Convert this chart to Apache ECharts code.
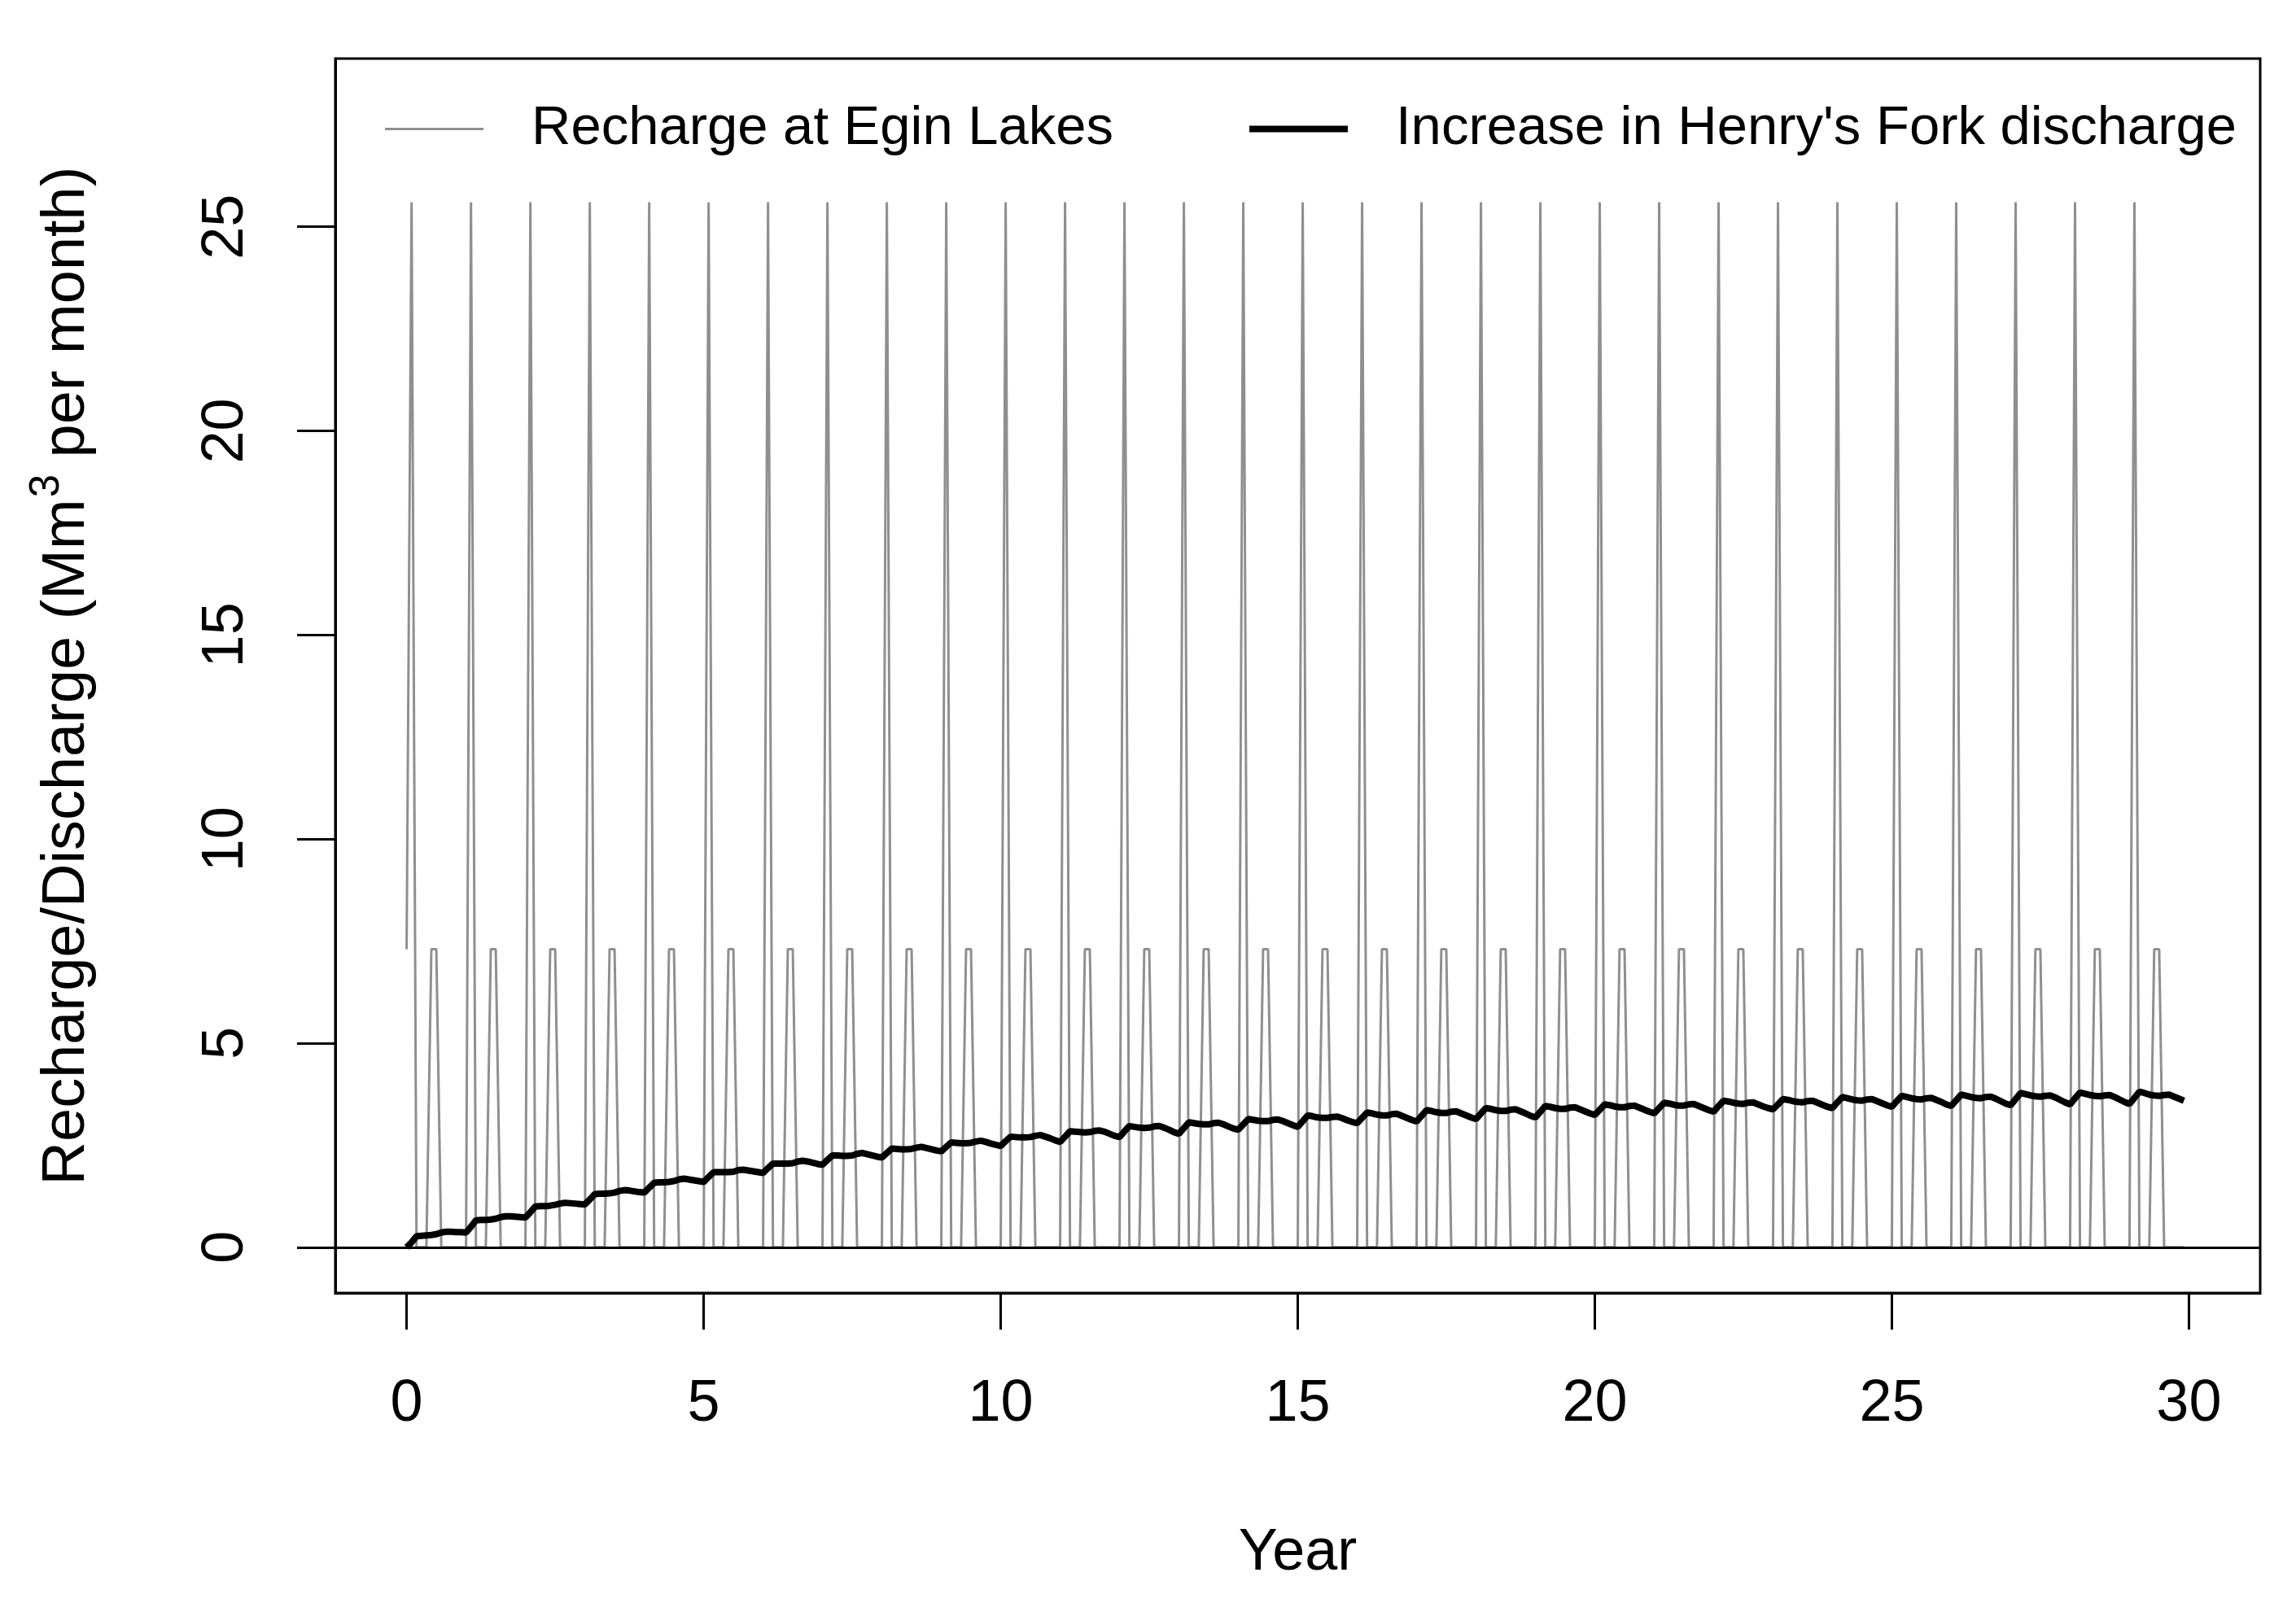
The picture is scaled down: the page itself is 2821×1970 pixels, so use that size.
<!DOCTYPE html>
<html>
<head>
<meta charset="utf-8">
<script src="https://cdn.jsdelivr.net/npm/echarts@6/dist/echarts.min.js"></script>
<style>
  html, body { margin: 0; padding: 0; background: #fff; }
  #chart { width: 2821px; height: 1970px; }
</style>
</head>
<body>
<div id="chart"></div>
<script>
// ---- Data (monthly, 30 years, month index 0..359) ----
const MONTHS_PER_YEAR = 12;

// Recharge at Egin Lakes (Mm^3 per month), one row per year
const recharge = [
  7.3, 25.6, 0, 0, 0, 7.3, 7.3, 0, 0, 0, 0, 0,
  0, 25.6, 0, 0, 0, 7.3, 7.3, 0, 0, 0, 0, 0,
  0, 25.6, 0, 0, 0, 7.3, 7.3, 0, 0, 0, 0, 0,
  0, 25.6, 0, 0, 0, 7.3, 7.3, 0, 0, 0, 0, 0,
  0, 25.6, 0, 0, 0, 7.3, 7.3, 0, 0, 0, 0, 0,
  0, 25.6, 0, 0, 0, 7.3, 7.3, 0, 0, 0, 0, 0,
  0, 25.6, 0, 0, 0, 7.3, 7.3, 0, 0, 0, 0, 0,
  0, 25.6, 0, 0, 0, 7.3, 7.3, 0, 0, 0, 0, 0,
  0, 25.6, 0, 0, 0, 7.3, 7.3, 0, 0, 0, 0, 0,
  0, 25.6, 0, 0, 0, 7.3, 7.3, 0, 0, 0, 0, 0,
  0, 25.6, 0, 0, 0, 7.3, 7.3, 0, 0, 0, 0, 0,
  0, 25.6, 0, 0, 0, 7.3, 7.3, 0, 0, 0, 0, 0,
  0, 25.6, 0, 0, 0, 7.3, 7.3, 0, 0, 0, 0, 0,
  0, 25.6, 0, 0, 0, 7.3, 7.3, 0, 0, 0, 0, 0,
  0, 25.6, 0, 0, 0, 7.3, 7.3, 0, 0, 0, 0, 0,
  0, 25.6, 0, 0, 0, 7.3, 7.3, 0, 0, 0, 0, 0,
  0, 25.6, 0, 0, 0, 7.3, 7.3, 0, 0, 0, 0, 0,
  0, 25.6, 0, 0, 0, 7.3, 7.3, 0, 0, 0, 0, 0,
  0, 25.6, 0, 0, 0, 7.3, 7.3, 0, 0, 0, 0, 0,
  0, 25.6, 0, 0, 0, 7.3, 7.3, 0, 0, 0, 0, 0,
  0, 25.6, 0, 0, 0, 7.3, 7.3, 0, 0, 0, 0, 0,
  0, 25.6, 0, 0, 0, 7.3, 7.3, 0, 0, 0, 0, 0,
  0, 25.6, 0, 0, 0, 7.3, 7.3, 0, 0, 0, 0, 0,
  0, 25.6, 0, 0, 0, 7.3, 7.3, 0, 0, 0, 0, 0,
  0, 25.6, 0, 0, 0, 7.3, 7.3, 0, 0, 0, 0, 0,
  0, 25.6, 0, 0, 0, 7.3, 7.3, 0, 0, 0, 0, 0,
  0, 25.6, 0, 0, 0, 7.3, 7.3, 0, 0, 0, 0, 0,
  0, 25.6, 0, 0, 0, 7.3, 7.3, 0, 0, 0, 0, 0,
  0, 25.6, 0, 0, 0, 7.3, 7.3, 0, 0, 0, 0, 0,
  0, 25.6, 0, 0, 0, 7.3, 7.3, 0, 0, 0, 0, 0
];

// Increase in Henry's Fork discharge (Mm^3 per month), one row per year
const discharge = [
  0.00, 0.12, 0.27, 0.28, 0.29, 0.30, 0.32, 0.36, 0.38, 0.38, 0.37, 0.37,
  0.36, 0.50, 0.66, 0.67, 0.67, 0.68, 0.70, 0.74, 0.76, 0.76, 0.75, 0.74,
  0.73, 0.86, 1.00, 1.01, 1.01, 1.02, 1.04, 1.07, 1.09, 1.08, 1.07, 1.06,
  1.05, 1.17, 1.30, 1.31, 1.31, 1.32, 1.34, 1.38, 1.40, 1.39, 1.37, 1.35,
  1.34, 1.46, 1.58, 1.59, 1.59, 1.60, 1.62, 1.66, 1.68, 1.66, 1.64, 1.62,
  1.60, 1.72, 1.84, 1.84, 1.84, 1.84, 1.85, 1.89, 1.90, 1.88, 1.86, 1.84,
  1.82, 1.94, 2.05, 2.05, 2.05, 2.05, 2.06, 2.10, 2.12, 2.10, 2.07, 2.04,
  2.02, 2.14, 2.25, 2.25, 2.24, 2.24, 2.25, 2.29, 2.31, 2.28, 2.25, 2.22,
  2.20, 2.31, 2.42, 2.41, 2.40, 2.40, 2.41, 2.44, 2.46, 2.43, 2.40, 2.37,
  2.35, 2.46, 2.57, 2.56, 2.55, 2.55, 2.56, 2.59, 2.61, 2.58, 2.54, 2.51,
  2.48, 2.60, 2.71, 2.70, 2.69, 2.69, 2.70, 2.73, 2.75, 2.71, 2.67, 2.62,
  2.58, 2.71, 2.84, 2.83, 2.82, 2.81, 2.82, 2.85, 2.86, 2.83, 2.78, 2.73,
  2.70, 2.84, 2.97, 2.95, 2.93, 2.92, 2.93, 2.96, 2.97, 2.93, 2.88, 2.82,
  2.78, 2.92, 3.06, 3.04, 3.02, 3.01, 3.01, 3.04, 3.05, 3.01, 2.96, 2.91,
  2.88, 3.01, 3.14, 3.12, 3.10, 3.09, 3.09, 3.12, 3.13, 3.09, 3.04, 2.99,
  2.95, 3.09, 3.23, 3.21, 3.18, 3.17, 3.17, 3.19, 3.20, 3.16, 3.11, 3.07,
  3.04, 3.17, 3.30, 3.28, 3.25, 3.23, 3.23, 3.26, 3.27, 3.22, 3.17, 3.12,
  3.08, 3.22, 3.36, 3.34, 3.31, 3.29, 3.29, 3.32, 3.33, 3.28, 3.23, 3.18,
  3.14, 3.28, 3.41, 3.39, 3.36, 3.34, 3.34, 3.37, 3.38, 3.33, 3.28, 3.22,
  3.18, 3.32, 3.46, 3.44, 3.41, 3.39, 3.39, 3.42, 3.43, 3.38, 3.33, 3.28,
  3.24, 3.37, 3.50, 3.48, 3.45, 3.43, 3.43, 3.46, 3.47, 3.42, 3.37, 3.32,
  3.28, 3.41, 3.54, 3.52, 3.49, 3.47, 3.47, 3.50, 3.51, 3.46, 3.41, 3.36,
  3.32, 3.46, 3.59, 3.57, 3.54, 3.52, 3.51, 3.54, 3.55, 3.50, 3.45, 3.41,
  3.38, 3.50, 3.63, 3.61, 3.58, 3.56, 3.55, 3.58, 3.59, 3.54, 3.49, 3.44,
  3.41, 3.55, 3.68, 3.65, 3.62, 3.60, 3.59, 3.62, 3.63, 3.58, 3.53, 3.48,
  3.44, 3.58, 3.71, 3.68, 3.65, 3.63, 3.62, 3.65, 3.66, 3.61, 3.56, 3.50,
  3.46, 3.60, 3.74, 3.71, 3.68, 3.66, 3.65, 3.68, 3.69, 3.64, 3.58, 3.52,
  3.48, 3.63, 3.78, 3.75, 3.72, 3.70, 3.69, 3.71, 3.72, 3.67, 3.61, 3.55,
  3.50, 3.65, 3.79, 3.76, 3.73, 3.71, 3.70, 3.72, 3.73, 3.68, 3.62, 3.56,
  3.51, 3.66, 3.81, 3.78, 3.74, 3.72, 3.71, 3.73, 3.74, 3.69, 3.64, 3.59
];

const xTicks = [0, 5, 10, 15, 20, 25, 30];
const yTicks = [0, 5, 10, 15, 20, 25];
const seriesNames = ["Recharge at Egin Lakes", "Increase in Henry's Fork discharge"];

// ---- Build chart ----
const toPairs = arr => arr.map((v, i) => [i / MONTHS_PER_YEAR, v]);
const FONT = "'Liberation Sans', Arial, Helvetica, sans-serif";

const chart = echarts.init(document.getElementById('chart'), null, { renderer: 'canvas' });

const legendText = { fontFamily: FONT, fontSize: 67, color: '#000', padding: [0, 0, 0, 54] };

chart.setOption({
  animation: false,
  backgroundColor: '#fff',
  textStyle: { fontFamily: FONT },
  grid: {
    left: 412, top: 72, width: 2365, height: 1517,
    show: true, borderColor: '#000', borderWidth: 3, backgroundColor: 'transparent'
  },
  legend: [
    { left: 468, top: 120, icon: 'rect', itemWidth: 121, itemHeight: 3,
      textStyle: legendText, selectedMode: false, data: [seriesNames[0]] },
    { left: 1530, top: 120, icon: 'rect', itemWidth: 121, itemHeight: 8,
      textStyle: legendText, selectedMode: false, data: [seriesNames[1]] }
  ],
  xAxis: {
    type: 'value',
    min: -1.2, max: 31.2,
    name: 'Year',
    nameLocation: 'middle',
    nameGap: 284,
    nameTextStyle: { fontFamily: FONT, fontSize: 72, color: '#000' },
    axisLine: { show: true, onZero: false, lineStyle: { color: '#000', width: 3 } },
    splitLine: { show: false },
    axisTick: { show: true, inside: false, length: 45, customValues: xTicks,
      lineStyle: { color: '#000', width: 3 } },
    axisLabel: { show: true, customValues: xTicks, margin: 101,
      fontFamily: FONT, fontSize: 72, color: '#000' }
  },
  yAxis: {
    type: 'value',
    min: -1.12, max: 29.12,
    name: '{a|Recharge/Discharge (Mm}{s|3}{a| per month)}',
    nameLocation: 'middle',
    nameRotate: 90,
    nameGap: 292,
    nameTextStyle: {
      color: '#000',
      rich: {
        a: { fontFamily: FONT, fontSize: 74, color: '#000', lineHeight: 88, verticalAlign: 'bottom' },
        s: { fontFamily: FONT, fontSize: 51, color: '#000', lineHeight: 88, verticalAlign: 'top', padding: [0, 0, 0, 2] }
      }
    },
    axisLine: { show: true, onZero: false, lineStyle: { color: '#000', width: 3 } },
    splitLine: { show: false },
    axisTick: { show: true, inside: false, length: 47, customValues: yTicks,
      lineStyle: { color: '#000', width: 3 } },
    axisLabel: { show: true, customValues: yTicks, rotate: 90, margin: 98,
      fontFamily: FONT, fontSize: 72, color: '#000' }
  },
  series: [
    {
      name: seriesNames[0],
      type: 'line',
      data: toPairs(recharge),
      showSymbol: false,
      symbol: 'none',
      lineStyle: { color: '#8f8f8f', width: 3 },
      itemStyle: { color: '#8f8f8f' },
      z: 2
    },
    {
      name: seriesNames[1],
      type: 'line',
      data: toPairs(discharge),
      showSymbol: false,
      symbol: 'none',
      lineStyle: { color: '#000', width: 8 },
      itemStyle: { color: '#000' },
      z: 3,
      markLine: {
        silent: true,
        symbol: ['none', 'none'],
        label: { show: false },
        lineStyle: { color: '#000', width: 3, type: 'solid' },
        data: [{ yAxis: 0 }],
        z: 4
      }
    }
  ]
});
</script>
</body>
</html>
